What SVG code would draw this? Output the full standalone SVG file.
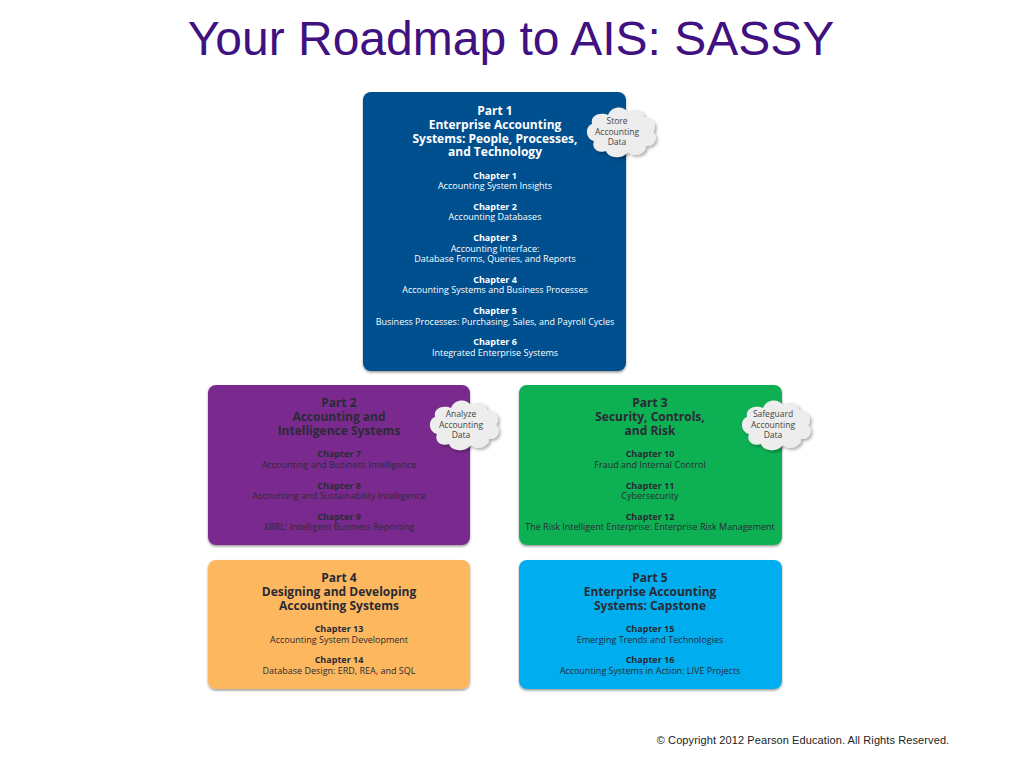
<svg xmlns="http://www.w3.org/2000/svg" width="1024" height="768" viewBox="0 0 1024 768">
<style>
text{font-family:"Open Sans","Noto Sans","Liberation Sans",sans-serif;text-anchor:middle}
.title{font-family:"Liberation Sans",Arial,sans-serif;font-size:48px;fill:#3f1181}
.copy{font-family:"Liberation Sans",Arial,sans-serif;font-size:11px;fill:#222;letter-spacing:.1px}
.h{font-size:12px;font-weight:700}
.c{font-size:9px;font-weight:700}
.t{font-size:9px}
.l{fill:#fff}
.d{fill:#2a2a35}
.cl{font-size:8.5px;fill:#444}
.box{filter:url(#s)}
.cloud{fill:#ededed;filter:url(#s2)}
</style>
<defs>
<filter id="s" x="-5%" y="-5%" width="110%" height="110%"><feDropShadow dx="0" dy="1.5" stdDeviation="1.2" flood-color="#000" flood-opacity=".4"/></filter>
<filter id="s2" x="-20%" y="-20%" width="140%" height="140%"><feDropShadow dx="2" dy="2" stdDeviation="1.5" flood-color="#000" flood-opacity=".3"/></filter>
<g id="cl"><path d="M-30 -8C-32 -18 -20 -20 -14 -17C-10 -27 2 -26 6 -20C13 -25 22 -22 22 -15C31 -15 36 -6 31 0C37 6 32 15 24 14C24 22 12 26 6 20C0 28 -14 26 -16 19C-24 22 -31 16 -28 9C-37 7 -37 -6 -30 -8Z"/></g>
</defs>
<text class="title" x="511" y="55">Your Roadmap to AIS: SASSY</text>
<g id="part1">
<rect class="box" x="363" y="92" width="263" height="279" rx="8" fill="#03508f"/>
<g class="l">
<text class="h" x="495" y="115">Part 1</text>
<text class="h" x="495" y="129">Enterprise Accounting</text>
<text class="h" x="495" y="143">Systems: People, Processes,</text>
<text class="h" x="495" y="156">and Technology</text>
<text class="c" x="495" y="179">Chapter 1</text><text class="t" x="495" y="189">Accounting System Insights</text>
<text class="c" x="495" y="210">Chapter 2</text><text class="t" x="495" y="220">Accounting Databases</text>
<text class="c" x="495" y="241">Chapter 3</text><text class="t" x="495" y="252">Accounting Interface:</text><text class="t" x="495" y="262">Database Forms, Queries, and Reports</text>
<text class="c" x="495" y="283">Chapter 4</text><text class="t" x="495" y="293">Accounting Systems and Business Processes</text>
<text class="c" x="495" y="314">Chapter 5</text><text class="t" x="495" y="325">Business Processes: Purchasing, Sales, and Payroll Cycles</text>
<text class="c" x="495" y="345">Chapter 6</text><text class="t" x="495" y="356">Integrated Enterprise Systems</text>
</g>
<use href="#cl" class="cloud" x="622" y="132"/>
<text class="cl" x="617" y="124">Store</text><text class="cl" x="617" y="135">Accounting</text><text class="cl" x="617" y="145">Data</text>
</g>
<g id="part2">
<rect class="box" x="208" y="385" width="262" height="160" rx="8" fill="#7a2a8e"/>
<g class="d">
<text class="h" x="339" y="407">Part 2</text>
<text class="h" x="339" y="421">Accounting and</text>
<text class="h" x="339" y="435">Intelligence Systems</text>
<text class="c" x="339" y="457">Chapter 7</text><text class="t" x="339" y="468">Accounting and Business Intelligence</text>
<text class="c" x="339" y="489">Chapter 8</text><text class="t" x="339" y="499">Accounting and Sustainability Intelligence</text>
<text class="c" x="339" y="520">Chapter 9</text><text class="t" x="339" y="530">XBRL: Intelligent Business Reporting</text>
</g>
<use href="#cl" class="cloud" x="465" y="425"/>
<text class="cl" x="461" y="417">Analyze</text><text class="cl" x="461" y="428">Accounting</text><text class="cl" x="461" y="438">Data</text>
</g>
<g id="part3">
<rect class="box" x="519" y="385" width="263" height="160" rx="8" fill="#0ab052"/>
<g class="d">
<text class="h" x="650" y="407">Part 3</text>
<text class="h" x="650" y="421">Security, Controls,</text>
<text class="h" x="650" y="435">and Risk</text>
<text class="c" x="650" y="457">Chapter 10</text><text class="t" x="650" y="468">Fraud and Internal Control</text>
<text class="c" x="650" y="489">Chapter 11</text><text class="t" x="650" y="499">Cybersecurity</text>
<text class="c" x="650" y="520">Chapter 12</text><text class="t" x="650" y="530">The Risk Intelligent Enterprise: Enterprise Risk Management</text>
</g>
<use href="#cl" class="cloud" x="777" y="425"/>
<text class="cl" x="773" y="417">Safeguard</text><text class="cl" x="773" y="428">Accounting</text><text class="cl" x="773" y="438">Data</text>
</g>
<g id="part4">
<rect class="box" x="208" y="560" width="262" height="129" rx="8" fill="#fdb85f"/>
<g class="d">
<text class="h" x="339" y="582">Part 4</text>
<text class="h" x="339" y="596">Designing and Developing</text>
<text class="h" x="339" y="610">Accounting Systems</text>
<text class="c" x="339" y="632">Chapter 13</text><text class="t" x="339" y="643">Accounting System Development</text>
<text class="c" x="339" y="663">Chapter 14</text><text class="t" x="339" y="674">Database Design: ERD, REA, and SQL</text>
</g>
</g>
<g id="part5">
<rect class="box" x="519" y="560" width="263" height="129" rx="8" fill="#02aeef"/>
<g class="d">
<text class="h" x="650" y="582">Part 5</text>
<text class="h" x="650" y="596">Enterprise Accounting</text>
<text class="h" x="650" y="610">Systems: Capstone</text>
<text class="c" x="650" y="632">Chapter 15</text><text class="t" x="650" y="643">Emerging Trends and Technologies</text>
<text class="c" x="650" y="663">Chapter 16</text><text class="t" x="650" y="674">Accounting Systems in Action: LIVE Projects</text>
</g>
</g>
<text class="copy" x="803" y="744">© Copyright 2012 Pearson Education. All Rights Reserved.</text>
</svg>
